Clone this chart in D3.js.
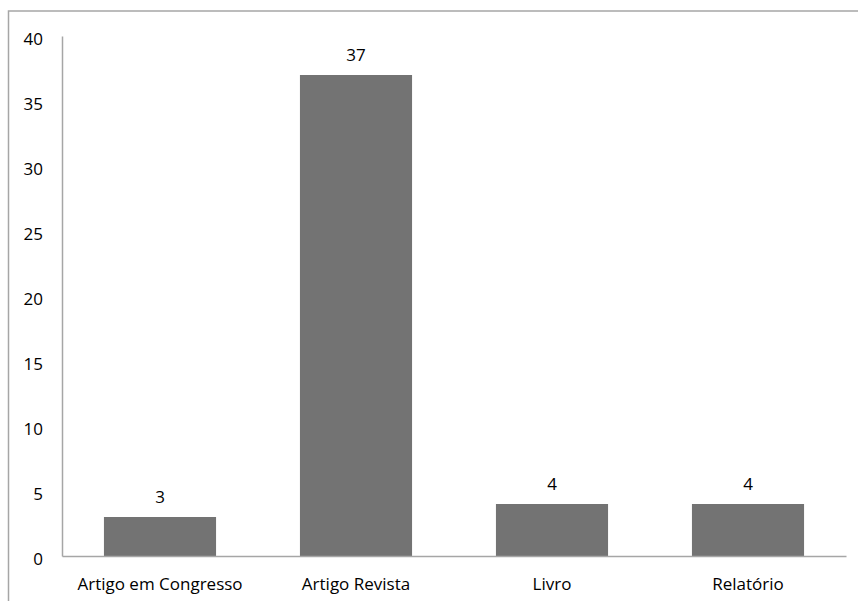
<!DOCTYPE html>
<html><head><meta charset="utf-8">
<script src="https://cdn.jsdelivr.net/npm/d3@7"></script>
<style>body{margin:0;background:#fff}svg{display:block}text{font-family:"Open Sans",sans-serif;fill:#000}</style>
</head><body>
<svg id="c" width="858" height="601"></svg>
<script>
const categories = ["Artigo em Congresso", "Artigo Revista", "Livro", "Relatório"];
const values = [3, 37, 4, 4];
const yTicks = [0, 5, 10, 15, 20, 25, 30, 35, 40];

const svg = d3.select("#c");
svg.append("rect").attr("x", 8.5).attr("y", 11).attr("width", 900).attr("height", 700)
  .attr("fill", "none").attr("stroke", "#a6a6a6").attr("stroke-width", 1.5);

const x = d3.scaleBand().domain(categories).range([62, 846]).paddingInner(0.428).paddingOuter(0.214);
const y = d3.scaleLinear().domain([0, 40]).range([556, 36]);

// y axis
const ya = svg.append("g").attr("transform", "translate(62,0)")
  .call(d3.axisLeft(y).tickValues(yTicks).tickSize(0).tickPadding(19));
ya.select(".domain").attr("stroke", "#a6a6a6").attr("stroke-width", 1.5);
ya.selectAll("text").attr("font-size", 17).attr("dy", "0.5em").style("font-family", '"Open Sans",sans-serif');

// bars
svg.selectAll(".bar").data(values).enter().append("rect")
  .attr("x", (d, i) => x(categories[i]))
  .attr("y", d => y(d))
  .attr("width", x.bandwidth())
  .attr("height", d => y(0) - y(d))
  .attr("fill", "#737373");

// x axis
const xa = svg.append("g").attr("transform", `translate(0,${y(0)})`)
  .call(d3.axisBottom(x).tickSize(0).tickPadding(22));
xa.select(".domain").attr("stroke", "#a6a6a6").attr("stroke-width", 1.5);
xa.selectAll("text").attr("font-size", 17).style("font-family", '"Open Sans",sans-serif');

// value labels
svg.selectAll(".lbl").data(values).enter().append("text")
  .attr("x", (d, i) => x(categories[i]) + x.bandwidth() / 2)
  .attr("y", d => y(d) - 20)
  .attr("dy", "0.35em")
  .attr("text-anchor", "middle")
  .attr("font-size", 17)
  .text(d => d);
</script>
</body></html>
